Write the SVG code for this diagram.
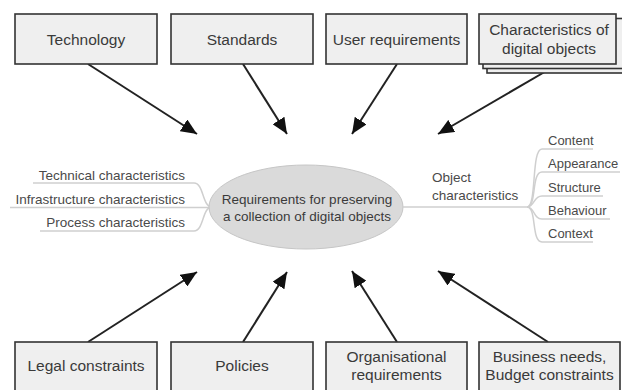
<svg xmlns="http://www.w3.org/2000/svg" width="622" height="390" viewBox="0 0 622 390">
<style>
.box{fill:#efefef;stroke:#333;stroke-width:1.6}
.bt{font-family:"Liberation Sans",Arial,sans-serif;font-size:15.5px;fill:#3a3a3a;text-anchor:middle}
.st{font-family:"Liberation Sans",Arial,sans-serif;font-size:13.5px;fill:#4a4a4a}
.rt{font-family:"Liberation Sans",Arial,sans-serif;font-size:13px;fill:#4a4a4a}
.et{font-family:"Liberation Sans",Arial,sans-serif;font-size:13.5px;fill:#3a3a3a;text-anchor:middle}
.br{fill:none;stroke:#cfcfcf;stroke-width:1.5}
.ar{fill:none;stroke:#222;stroke-width:2;marker-end:url(#ah)}
</style>
<defs>
<marker id="ah" markerUnits="userSpaceOnUse" markerWidth="18" markerHeight="14" refX="16" refY="7" orient="auto">
<path d="M0,0 L16,7 L0,14 Z" fill="#111"/>
</marker>
</defs>
<rect width="622" height="390" fill="#fff"/>
<g id="connectors">
<line class="ar" x1="88" y1="64" x2="197" y2="134"/>
<line class="ar" x1="243" y1="64" x2="287" y2="134"/>
<line class="ar" x1="397" y1="64" x2="352" y2="134"/>
<line class="ar" x1="548" y1="70" x2="438" y2="134"/>
<line class="ar" x1="88" y1="342" x2="197" y2="272"/>
<line class="ar" x1="243" y1="342" x2="287" y2="272"/>
<line class="ar" x1="397" y1="342" x2="352" y2="271"/>
<line class="ar" x1="548" y1="342" x2="438" y2="271"/>
</g>
<g id="left-branches">
<path class="br" d="M33,183 H194 C204,183 202,207 212,207"/>
<path class="br" d="M10,207.5 H212"/>
<path class="br" d="M40,231 H194 C204,231 202,207 212,207"/>
<text class="st" x="185" y="180" text-anchor="end">Technical characteristics</text>
<text class="st" x="185" y="204" text-anchor="end">Infrastructure characteristics</text>
<text class="st" x="185" y="227" text-anchor="end">Process characteristics</text>
</g>
<g id="center">
<ellipse cx="306" cy="207" rx="97" ry="42" fill="#dadada" stroke="#c6c6c6" stroke-width="1"/>
<text class="et" x="307" y="204">Requirements for preserving</text>
<text class="et" x="307" y="221">a collection of digital objects</text>
</g>
<g id="object-characteristics">
<path class="br" d="M403,207 H527"/>
<path class="br" d="M527,207 C537,207 531,149 542,149 H593"/>
<path class="br" d="M527,207 C537,207 531,172 542,172 H620"/>
<path class="br" d="M527,207 C535,207 533,196 542,196 H603"/>
<path class="br" d="M527,207 C535,207 533,219 542,219 H610"/>
<path class="br" d="M527,207 C537,207 531,242 542,242 H593"/>
<text class="st" x="432" y="182">Object</text>
<text class="st" x="432" y="200">characteristics</text>
<text class="rt" x="548" y="145">Content</text>
<text class="rt" x="548" y="168">Appearance</text>
<text class="rt" x="548" y="192">Structure</text>
<text class="rt" x="548" y="215">Behaviour</text>
<text class="rt" x="548" y="238">Context</text>
</g>
<g id="technology">
<rect class="box" x="15" y="14" width="142" height="50"/>
<text class="bt" x="86" y="44.5">Technology</text>
</g>
<g id="standards">
<rect class="box" x="171" y="14" width="142" height="50"/>
<text class="bt" x="242" y="44.5">Standards</text>
</g>
<g id="user-requirements">
<rect class="box" x="326" y="14" width="141" height="50"/>
<text class="bt" x="396.5" y="44.5">User requirements</text>
</g>
<g id="characteristics">
<rect class="box" x="487" y="23" width="140" height="50"/>
<rect class="box" x="483" y="18.5" width="140" height="50"/>
<rect class="box" x="479" y="14" width="137" height="50"/>
<text class="bt" x="549" y="35">Characteristics of</text>
<text class="bt" x="549" y="54">digital objects</text>
</g>
<g id="legal">
<rect class="box" x="15" y="342" width="142" height="60"/>
<text class="bt" x="86" y="370.5">Legal constraints</text>
</g>
<g id="policies">
<rect class="box" x="171" y="342" width="142" height="60"/>
<text class="bt" x="242" y="370.5">Policies</text>
</g>
<g id="organisational">
<rect class="box" x="326" y="342" width="141" height="60"/>
<text class="bt" x="396.5" y="362">Organisational</text>
<text class="bt" x="396.5" y="380">requirements</text>
</g>
<g id="business">
<rect class="box" x="479" y="342" width="141" height="60"/>
<text class="bt" x="549.5" y="362">Business needs,</text>
<text class="bt" x="549.5" y="380">Budget constraints</text>
</g>
</svg>
